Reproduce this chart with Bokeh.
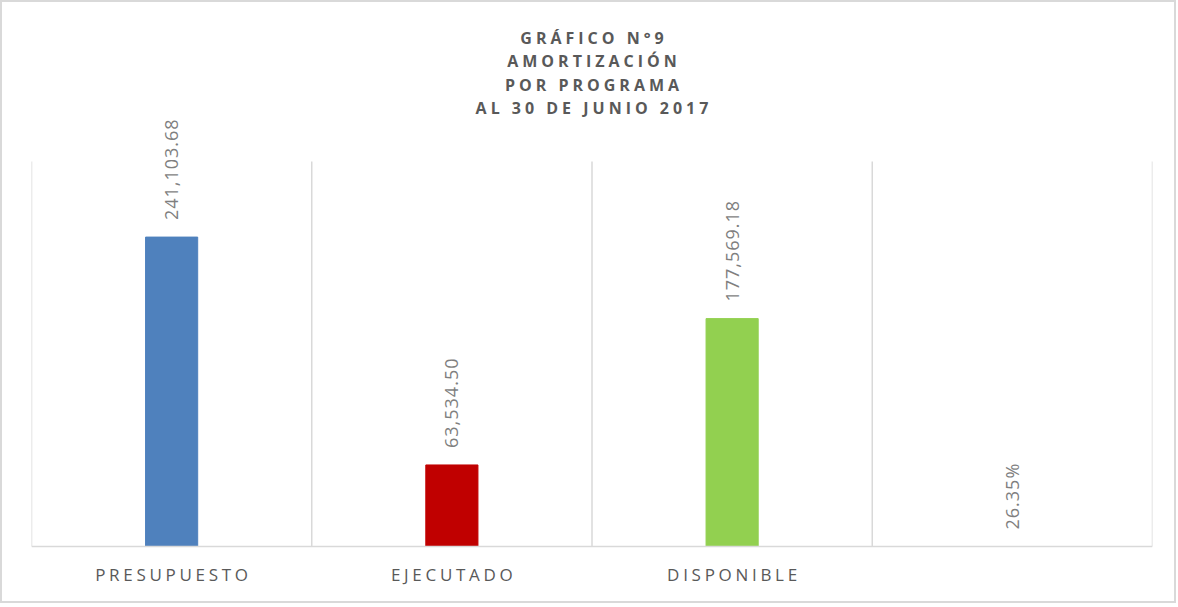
from bokeh.plotting import figure
from bokeh.models import ColumnDataSource, Range1d, Span
from bokeh.layouts import column
from bokeh.core.properties import value
from bokeh.embed import file_html
from bokeh.resources import INLINE
import math

# ---- data ----
categories = ["PRESUPUESTO", "EJECUTADO", "DISPONIBLE", ""]
amounts = [241103.68, 63534.50, 177569.18, 0.2635]
bar_colors = ["#4F81BD", "#C00000", "#92D050", "#FFFFFF"]
value_labels = ["241,103.68", "63,534.50", "177,569.18", "26.35%"]
title_lines = ["GRÁFICO N°9", "AMORTIZACIÓN", "POR PROGRAMA", "AL 30 DE JUNIO 2017"]
Y_AXIS_MAX = 300000          # top of the value axis (gridlines end here)

n = len(categories)
positions = [i + 0.5 for i in range(n)]
boundaries = list(range(n + 1))

# ---- layout constants (pixels) ----
W = 1172
BL, BR = 29, 22
TITLE_H = 116
MAIN_H = 431
AXIS_PX = 428                # pixels from main frame top to value 0
SCALE_PX = 385               # pixels for Y_AXIS_MAX
LABEL_H = 52
FONT = "Open Sans"
TITLE_SP = 4.0
LABEL_SP = 3.7

def base_fig(h, y_rng, spacing):
    f = figure(width=W, height=h, output_backend="svg", toolbar_location=None,
               x_range=Range1d(0, n), y_range=y_rng,
               min_border_left=BL, min_border_right=BR, min_border_top=0, min_border_bottom=0,
               styles={"letter-spacing": f"{spacing}px"})
    f.outline_line_color = None
    f.axis.visible = False
    f.grid.visible = False
    f.background_fill_color = "white"
    f.border_fill_color = "white"
    return f

def center_shift(texts, sp):
    return [-(max(len(t) - 1, 0)) * sp / 2 for t in texts]

# ---- title ----
tp = base_fig(TITLE_H, Range1d(0, TITLE_H), TITLE_SP)
title_baselines = [35, 58.5, 82, 105.5]   # from top of title area
tsrc = ColumnDataSource(dict(x=[n / 2] * len(title_lines),
                             y=[TITLE_H - b for b in title_baselines],
                             t=title_lines, dx=center_shift(title_lines, TITLE_SP)))
tp.text(x="x", y="y", text="t", x_offset="dx", source=tsrc, text_align="center",
        text_baseline="alphabetic", text_font=value(FONT), text_font_style="bold",
        text_font_size="16px", text_color="#595959")

# ---- main plot ----
unit = Y_AXIS_MAX / SCALE_PX
mp = base_fig(MAIN_H, Range1d(-(MAIN_H - AXIS_PX) * unit, AXIS_PX * unit), 1)
src = ColumnDataSource(dict(x=positions, top=amounts, color=bar_colors, label=value_labels))
mp.segment(x0=boundaries, x1=boundaries, y0=[0] * len(boundaries),
           y1=[Y_AXIS_MAX] * len(boundaries), line_color="#D9D9D9", line_width=1.5)
mp.vbar(x="x", top="top", width=0.186, color="color", source=src)
mp.add_layout(Span(location=0, dimension="width", line_color="#D9D9D9", line_width=1.5))
mp.text(x="x", y="top", text="label", source=src, angle=math.pi / 2,
        text_align="left", text_baseline="middle", y_offset=-17,
        text_font=value(FONT), text_font_size="18px", text_color="#7F7F7F")

# ---- category labels ----
lp = base_fig(LABEL_H, Range1d(0, LABEL_H), LABEL_SP)
lsrc = ColumnDataSource(dict(x=positions, y=[LABEL_H - 25] * n, t=categories,
                             dx=center_shift(categories, LABEL_SP)))
lp.text(x="x", y="y", text="t", x_offset="dx", source=lsrc, text_align="center",
        text_baseline="alphabetic", text_font=value(FONT),
        text_font_size="17px", text_color="#595959")

layout = column(tp, mp, lp, spacing=0, styles={"border": "2px solid #D9D9D9"})
open("out.html", "w").write(file_html(layout, INLINE))
